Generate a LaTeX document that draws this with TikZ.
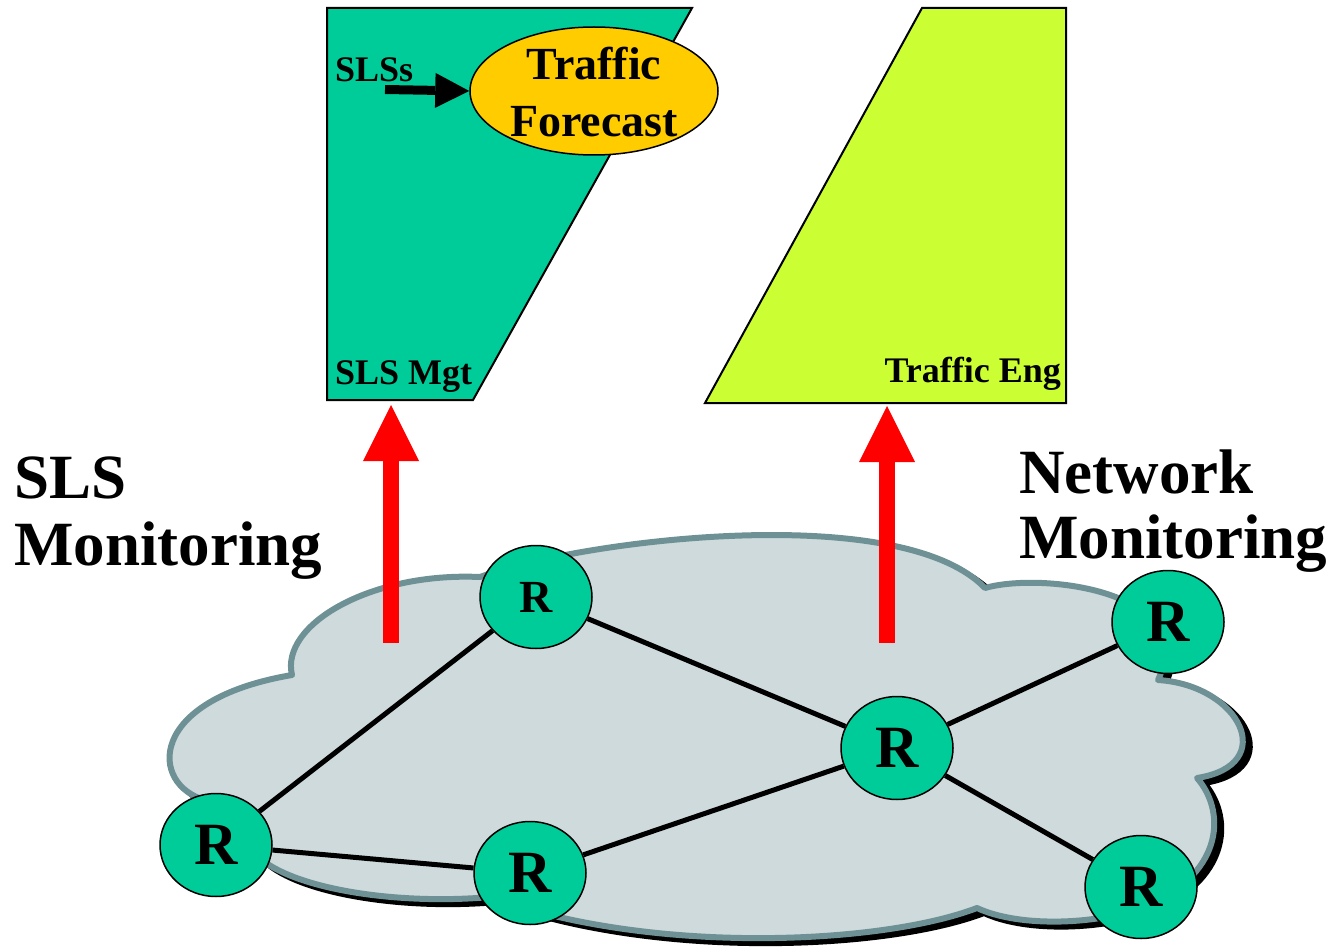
\documentclass[tikz,border=0pt]{standalone}
\usepackage{fontspec}
\setmainfont{Liberation Serif}
\usetikzlibrary{shapes.geometric,arrows.meta}
\definecolor{slsgreen}{HTML}{00CC99}
\definecolor{tegreen}{HTML}{CCFF33}
\definecolor{fcorange}{HTML}{FFCC00}
\definecolor{cloudfill}{HTML}{CFDADC}
\definecolor{cloudedge}{HTML}{6E9195}
\begin{document}
\begin{tikzpicture}[x=1pt,y=-1pt,
 router/.style={ellipse, draw=black, line width=1.5pt, fill=slsgreen, minimum width=112pt, minimum height=103pt, inner sep=0pt, font=\fontsize{60}{60}\selectfont\bfseries},
 link/.style={line width=5pt, black},
 uparrow/.style={line width=16pt, red, -{Triangle[length=56pt,width=56pt,line width=0pt]}},
 bigtext/.style={font=\fontsize{63}{67}\selectfont\bfseries, align=left, inner sep=0pt},
 boxtext/.style={font=\fontsize{36}{40}\selectfont\bfseries, inner sep=0pt},
 panel/.style={draw=black, line width=2pt}
]
\useasboundingbox (0,0) rectangle (1335,952);

% cloud shadow
\begin{scope}[shift={(7,5)}]
\draw[fill=black, draw=black, line width=6pt, line join=round]
 (292,675) .. controls (280,625) and (370,572) .. (480,577)
 .. controls (580,540) and (900,500) .. (985,588)
 .. controls (1040,572) and (1200,590) .. (1158,680)
 .. controls (1240,685) and (1280,765) .. (1197,778)
 .. controls (1225,810) and (1225,870) .. (1150,905)
 .. controls (1100,925) and (1020,928) .. (977,908)
 .. controls (880,945) and (650,955) .. (490,897)
 .. controls (400,905) and (300,890) .. (262,860)
 -- (205,800)
 .. controls (150,785) and (145,700) .. (292,675) -- cycle;
\end{scope}
% cloud
\draw[fill=cloudfill, draw=cloudedge, line width=6pt, line join=round]
 (292,675) .. controls (280,625) and (370,572) .. (480,577)
 .. controls (580,540) and (900,500) .. (985,588)
 .. controls (1040,572) and (1200,590) .. (1158,680)
 .. controls (1240,685) and (1280,765) .. (1197,778)
 .. controls (1225,810) and (1225,870) .. (1150,905)
 .. controls (1100,925) and (1020,928) .. (977,908)
 .. controls (880,945) and (650,955) .. (490,897)
 .. controls (400,905) and (300,890) .. (262,860)
 -- (205,800)
 .. controls (150,785) and (145,700) .. (292,675) -- cycle;

% routers
\node[router, font=\fontsize{46}{46}\selectfont\bfseries] (r1) at (536,597) {R};
\node[router] (rl) at (216,845) {R};
\node[router] (r2) at (530,873) {R};
\node[router] (rc) at (897,748) {R};
\node[router] (r5) at (1168,622) {R};
\node[router] (r6) at (1141,887) {R};

\draw[link] (rl) -- (r1);
\draw[link] (rl) -- (r2);
\draw[link] (r1) -- (rc);
\draw[link] (r2) -- (rc);
\draw[link] (rc) -- (r5);
\draw[link] (rc) -- (r6);

% panels
\draw[panel, fill=slsgreen] (327,8) -- (692,8) -- (473,400) -- (327,400) -- cycle;
\draw[panel, fill=tegreen] (922,8) -- (1066,8) -- (1066,403) -- (705,403) -- cycle;

\node[ellipse, draw=black, line width=1.5pt, fill=fcorange, minimum width=248pt, minimum height=128pt, inner sep=0pt] (fcell) at (594,91) {};
\node[font=\fontsize{46}{57}\selectfont\bfseries, align=center, inner sep=0pt] (fctext) at (594,92.5) {Traffic\\Forecast};

\node[boxtext, anchor=base west] (slss) at (335,82) {SLSs};
\coordinate (slsstart) at (385,89.5);
\draw[line width=9pt, -{Triangle[length=34pt,width=35pt,line width=0pt]}] (slsstart) -- (fcell.west);

\node[boxtext, anchor=base west] (slsmgt) at (335,384) {SLS Mgt};
\node[boxtext, anchor=base east] (teng) at (1061,382) {Traffic Eng};

% monitoring arrows
\coordinate (slsbase) at (391,643);
\coordinate (slstip) at (391,405);
\coordinate (netbase) at (887,643);
\coordinate (nettip) at (887,406);
\draw[uparrow] (slsbase) -- (slstip);
\draw[uparrow] (netbase) -- (nettip);

\node[bigtext, anchor=north west] (slsmon) at (14,457) {SLS\\Monitoring};
\node[bigtext, font=\fontsize{63}{65}\selectfont\bfseries, anchor=north west] (netmon) at (1019,450) {Network\\Monitoring};
\end{tikzpicture}
\end{document}
